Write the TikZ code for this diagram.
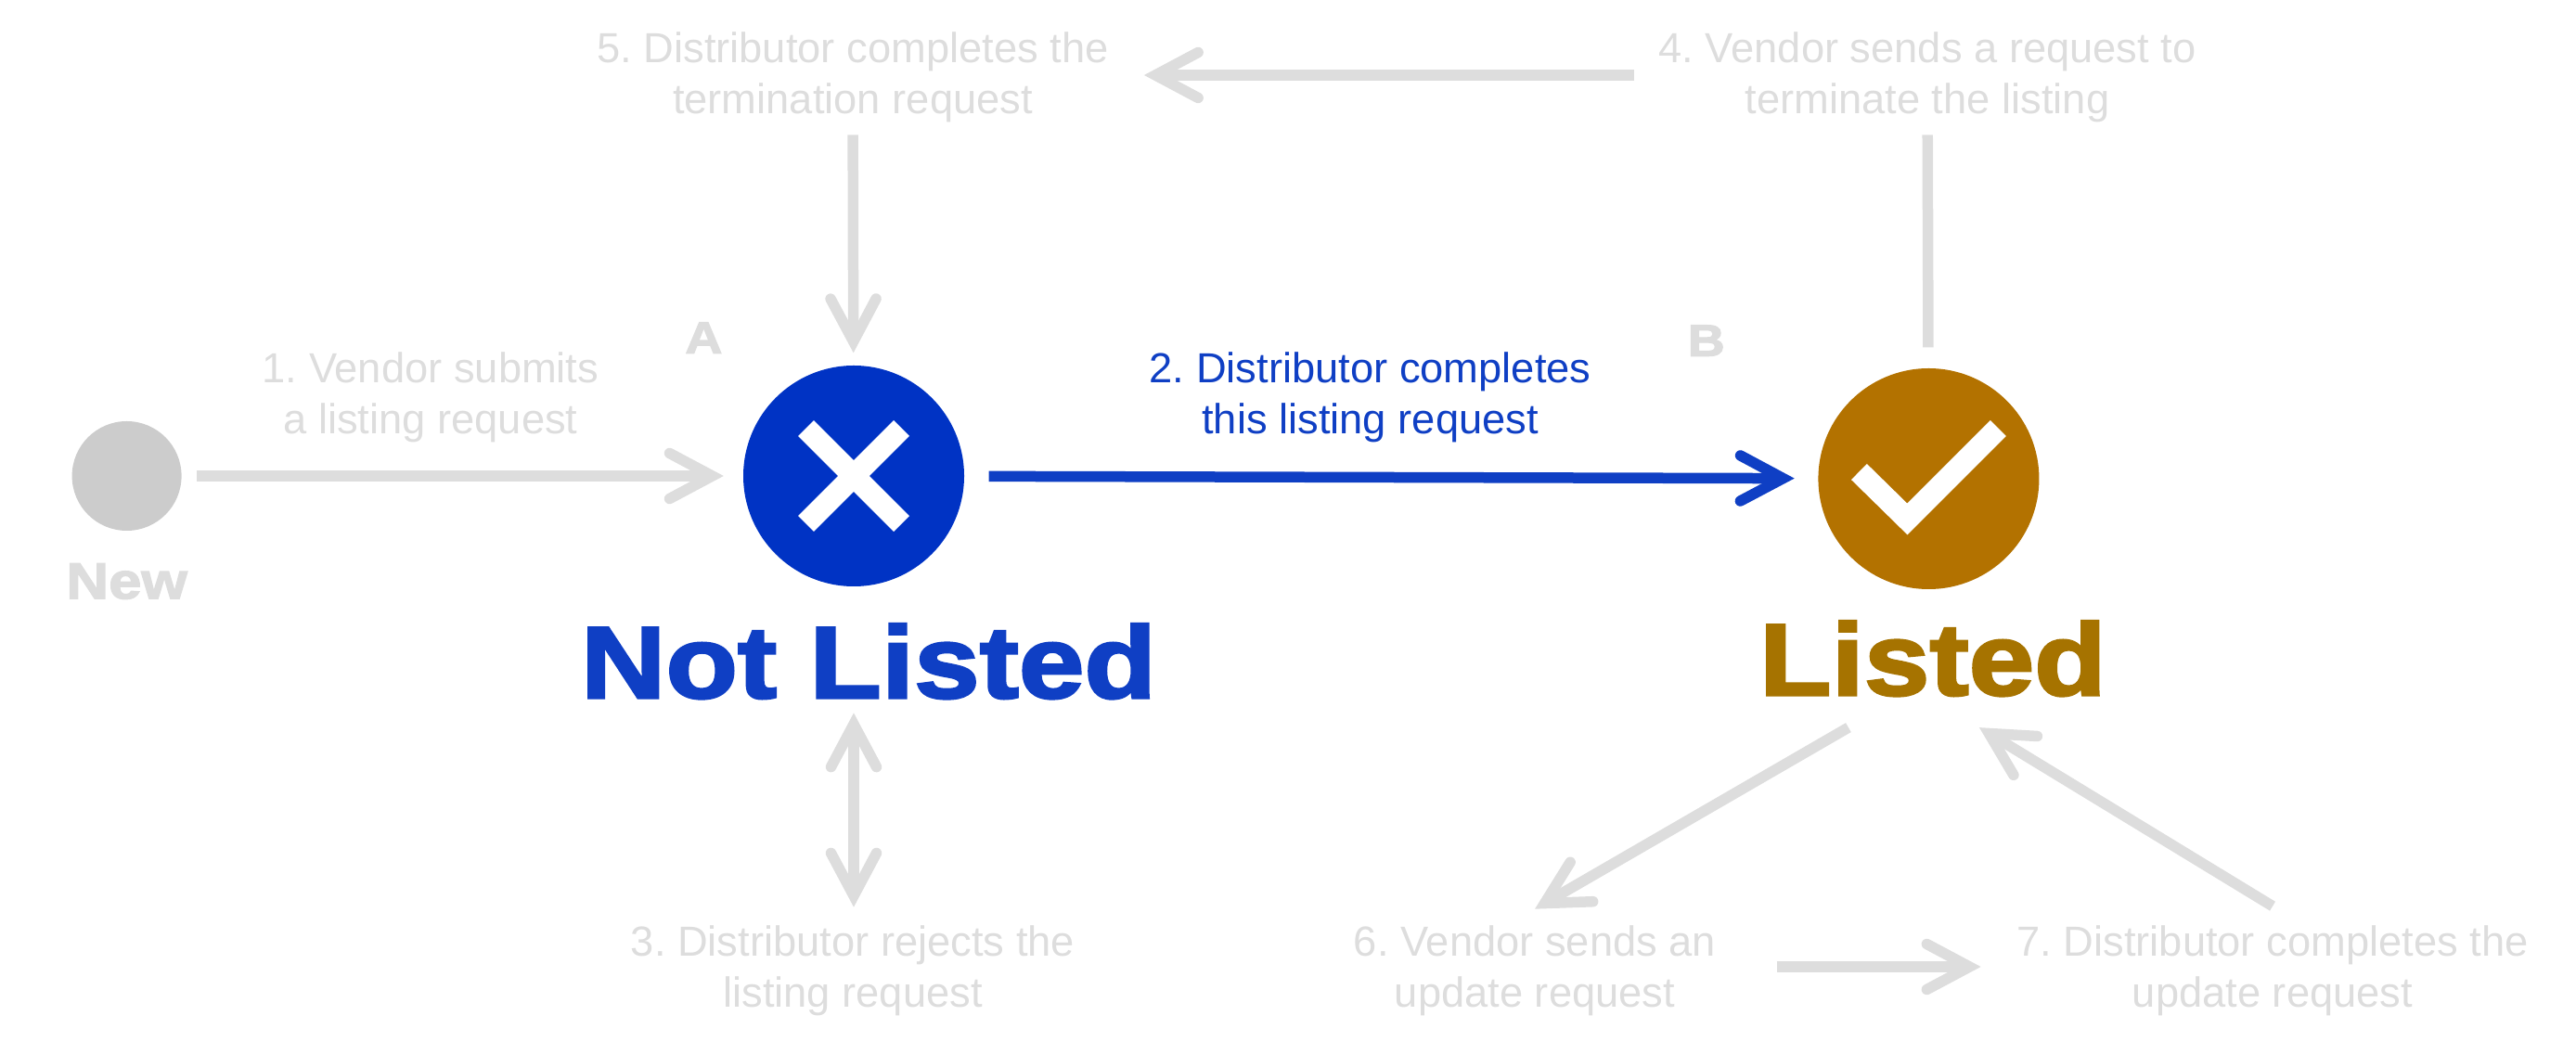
\documentclass[tikz,border=0pt]{standalone}
\usepackage{fontspec}
\setmainfont{Liberation Sans}
\newfontfamily\heavyfont[BoldFeatures={FakeBold=2.6,FakeStretch=1.153}]{Liberation Sans}
\usetikzlibrary{arrows.meta,positioning}
\definecolor{faded}{HTML}{DDDDDD}
\definecolor{newgrey}{HTML}{CCCCCC}
\definecolor{notblue}{HTML}{0033C4}
\definecolor{bluetext}{HTML}{0F3FC4}
\definecolor{listedbrown}{HTML}{B37200}
\definecolor{browntext}{HTML}{A67300}
\tikzset{
  >={Straight Barb[length=4.6mm,width=4.9mm,line cap=round]},
  stepnote/.style={font=\fontsize{4.53mm}{5.5mm}\selectfont\frenchspacing,text=faded,align=center,inner sep=0pt},
  activenote/.style={stepnote,text=bluetext},
  statedot/.style={circle,inner sep=0pt,minimum size=23.8mm},
  statename/.style={font=\fontsize{11mm}{11mm}\selectfont\heavyfont\bfseries,inner sep=0pt},
  tag/.style={font=\fontsize{4.8mm}{4.8mm}\selectfont\heavyfont\bfseries,text=faded,inner sep=0pt},
  glyph/.style={draw=white,line width=2.4mm,miter limit=10},
  fadedarr/.style={->,line width=1.15mm,draw=faded},
  fadedline/.style={line width=1.15mm,draw=faded},
  bluearr/.style={->,line width=1.15mm,draw=bluetext},
}
\begin{document}
\begin{tikzpicture}[x=1mm,y=1mm]
\path[use as bounding box] (0,0) rectangle (277.6,113.5);

\node[statedot,fill=notblue] (notlisted) at (92,62.2) {};
\node[statedot,fill=listedbrown,right=91.9mm of notlisted,yshift=-0.3mm] (listed) {};
\node[statedot,fill=newgrey,minimum size=11.8mm,left=60.4mm of notlisted] (new) {};

\draw[glyph] ([shift={(-5.15,5.15)}]notlisted.center) -- ([shift={(5.15,-5.15)}]notlisted.center);
\draw[glyph] ([shift={(-5.15,-5.15)}]notlisted.center) -- ([shift={(5.15,5.15)}]notlisted.center);
\draw[glyph] ([shift={(-7.5,0.75)}]listed.center) -- ([shift={(-2.3,-4.35)}]listed.center) -- ([shift={(7.5,5.45)}]listed.center);

% state names
\node[statename,text=bluetext,below=3.9mm of notlisted,xshift=1.6mm] (notname) {Not Listed};
\node[statename,text=browntext,below=3.3mm of listed,xshift=0.45mm] (listedname) {Listed};
\node[tag,font=\fontsize{5.5mm}{5.5mm}\selectfont\heavyfont\bfseries,below=3.4mm of new] (newname) {New};
\node[tag,above left=4.7mm and 7.7mm of notlisted.north west,anchor=south] (taga) {A};
\node[tag,above left=4.7mm and 15.5mm of listed.north west,anchor=south] (tagb) {B};

% steps
\node[stepnote] (one) at (46.4,70.65) {1. Vendor submits\\a listing request};
\node[activenote,right=59.2mm of one] (two) {2. Distributor completes\\this listing request};
\node[stepnote] (three) at (91.9,8.9) {3. Distributor rejects the\\listing request};
\node[stepnote] (four) at (207.7,105.2) {4. Vendor sends a request to\\terminate the listing};
\node[stepnote] (five) at (91.9,105.2) {5. Distributor completes the\\termination request};
\node[stepnote] (six) at (165.4,8.9) {6. Vendor sends an\\update request};
\node[stepnote] (seven) at (244.9,8.9) {7. Distributor completes the\\update request};

\draw[fadedarr,shorten <=1.55mm,shorten >=2.05mm] (new) -- (notlisted);
\draw[bluearr,shorten <=2.6mm,shorten >=2.5mm] (notlisted) -- (listed);
\draw[fadedarr,shorten <=1.3mm,shorten >=1.3mm] (five) -- (notlisted);
\draw[fadedarr,shorten <=2.55mm,shorten >=3.75mm] ([yshift=0.2mm]four.west) -- ([yshift=0.2mm]five.east);
\draw[fadedline,shorten <=1.3mm,shorten >=2.2mm] (four) -- (listed);
\draw[fadedarr,<->,shorten <=1.45mm,shorten >=1.9mm] (notlisted |- notname.south) -- (notlisted |- three.north);
\draw[fadedarr] ([shift={(-9.1,-3.5)}]listedname.base) -- ([yshift=1.7mm]six.north);
\draw[fadedarr] ([yshift=2mm]seven.north) -- ([shift={(5,-3.5)}]listedname.base);
\draw[fadedarr,shorten <=6.5mm,shorten >=3.8mm] ([yshift=0.4mm]six.east) -- ([yshift=0.4mm]seven.west);

\end{tikzpicture}
\end{document}
